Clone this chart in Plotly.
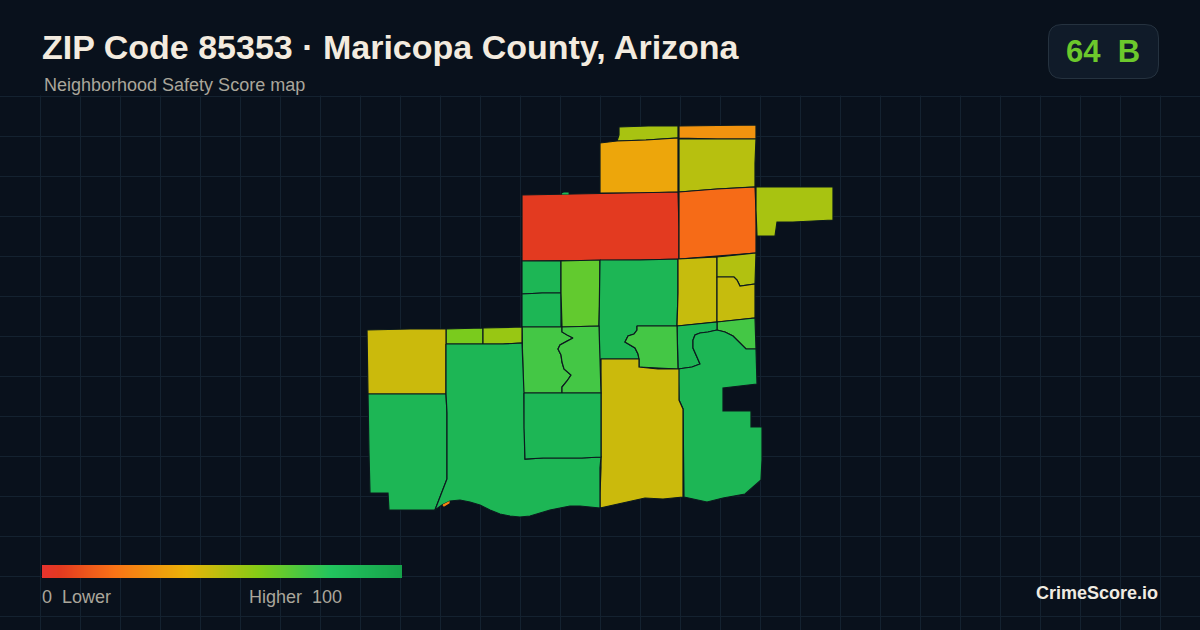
import numpy as np
import plotly.graph_objects as go
from plotly.colors import sample_colorscale

# ---------- text ----------
title_text = "ZIP Code 85353 · Maricopa County, Arizona"
subtitle_text = "Neighborhood Safety Score map"
badge_text = "64\u00a0\u00a0B"
legend_low = "0\u00a0\u00a0Lower"
legend_high = "Higher\u00a0\u00a0100"
brand_text = "CrimeScore.io"

# ---------- colour scale of the score ----------
score_stops = [0.0, 0.05, 0.2, 0.4, 0.6, 0.8, 1.0]
score_colors = ["#e6332e", "#e33a20", "#f97316", "#eab308", "#84cc16", "#22c55e", "#16a34a"]
legend_scores = list(range(0, 101, 2))

# ---------- tract scores ----------
tract_scores = {
    "a": 53, "b": 30, "c": 36, "d": 50, "e": 5, "f": 18, "g": 53,
    "h": 89, "i": 89, "j": 67, "k": 89, "l": 47, "m": 51, "n": 47,
    "o": 73, "p": 89, "q": 89, "r": 73, "s": 46, "t": 73, "u": 73,
    "v": 62, "w": 56, "x": 46, "y": 89, "z": 89, "aa": 89,
    "sliver_n": 89, "sliver_s": 25,
}

# ---------- tract outlines ----------
curve_tu = [(562,332),(567,335),(573,338),(567,341),(560,345),(558,349),(561,355),(562,362),(564,369),(571,375),(567,381),(562,387)]
curve_kr = [(637,330),(634,334),(628,336),(625,342),(630,345),(635,348),(638,354),(639,359)]
curve_mn = [(734,277),(737,280),(740,286)]
curve_pq = [(708,332),(700,333),(695,335),(693,340),(693,348),(697,357),(700,364),(692,367)]
curve_oq = [(725,332),(733,336),(740,343),(746,349)]
shore_west = [(590,507),(580,506),(570,506),(560,508),(550,510),(540,513),(530,516),(520,517),(510,516),(500,514),(490,510),(480,505),(470,502),(460,500),(450,501),(442,505)]

tract_a = [(619,127),(648,126),(678,126),(678,138),(646,140),(617,141),(619,135)]
tract_b = [(679,126),(737,125),(756,125),(756,139),(717,139),(679,138)]
tract_c = [(600,143),(617,141),(646,140),(678,138),(678,192),(640,193),(600,193)]
tract_d = [(679,139),(717,139),(756,139),(755,163),(755,187),(717,189),(679,192)]
tract_e = [(522,195),(580,194),(640,193),(678,192),(679,227),(679,259),(640,260),(560,261),(522,261)]
tract_f = [(679,192),(717,189),(755,187),(756,210),(756,253),(717,256),(679,259)]
tract_g = [(756,187),(833,187),(833,220),(793,222),(777,222),(775,236),(757,236),(756,210)]
tract_h = [(522,261),(561,261),(561,293),(542,293),(522,294)]
tract_i = [(522,294),(542,293),(561,293),(561,327),(522,327)]
tract_j = [(561,261),(600,260),(600,293),(599,326),(562,327),(561,293)]
tract_k = [(600,260),(640,260),(678,259),(678,293),(677,326),(637,326)] + curve_kr + [(599,359),(599,326)]
tract_l = [(678,259),(717,257),(717,277),(717,322),(677,326),(678,293)]
tract_m = [(717,257),(756,253),(755,284)] + curve_mn[::-1] + [(717,277)]
tract_n = [(717,277)] + curve_mn + [(755,284),(755,318),(717,322)]
tract_o = [(717,322),(755,318),(756,349)] + curve_oq[::-1] + [(717,330)]
tract_p = [(677,326),(717,322),(717,330)] + curve_pq + [(678,369)]
tract_q = [(678,369)] + curve_pq[::-1] + [(717,330)] + curve_oq + [(756,349),(757,384),(723,388),(723,411),(751,411),(751,427),(762,427),(762,460),(761,480),(745,494),(723,498),(707,502),(684,497),(683,409),(679,400)]
tract_r = [(637,326),(677,326),(678,369),(658,368),(639,367)] + curve_kr[::-1]
tract_s = [(601,359),(639,359),(639,367),(658,369),(679,369),(679,400),(683,409),(683,497),(663,499),(645,498),(600,508),(600,493),(601,468),(601,377)]
tract_t = [(522,327),(562,327)] + curve_tu + [(562,393),(523,393),(523,377)]
tract_u = [(562,327),(599,326),(600,359),(601,393),(562,393)] + curve_tu[::-1]
tract_v = [(446,329),(483,328),(483,344),(446,344)]
tract_w = [(483,328),(522,327),(522,343),(503,344),(483,344)]
tract_x = [(367,330),(410,329),(446,329),(446,394),(368,394),(367,353)]
tract_y = [(368,394),(446,394),(447,413),(447,479),(435,510),(389,510),(388,493),(370,493),(369,453)]
tract_z = [(446,344),(483,344),(503,344),(522,343),(523,377),(524,393),(525,459),(543,458),(582,458),(601,457),(600,468),(600,508)] + shore_west + [(435,510),(447,479),(447,413),(446,394)]
tract_aa = [(524,393),(601,393),(601,457),(582,458),(543,458),(525,459),(524,428)]
tract_sliver_n = [(562,194),(564,193),(568,193),(568,194)]
tract_sliver_s = [(443,505),(449,502),(449,503),(444,506)]

tracts = {
    "a": tract_a, "b": tract_b, "c": tract_c, "d": tract_d, "e": tract_e, "f": tract_f,
    "g": tract_g, "h": tract_h, "i": tract_i, "j": tract_j, "k": tract_k, "l": tract_l,
    "m": tract_m, "n": tract_n, "o": tract_o, "p": tract_p, "q": tract_q, "r": tract_r,
    "s": tract_s, "t": tract_t, "u": tract_u, "v": tract_v, "w": tract_w, "x": tract_x,
    "y": tract_y, "z": tract_z, "aa": tract_aa,
    "sliver_n": tract_sliver_n, "sliver_s": tract_sliver_s,
}

BG = "#09111c"
GRID = "#142230"
OUTLINE = "#0c1a1f"
colorscale = [[s, c] for s, c in zip(score_stops, score_colors)]

fig = go.Figure()

for name, pts in tracts.items():
    xs = [p[0] for p in pts] + [pts[0][0]]
    ys = [p[1] for p in pts] + [pts[0][1]]
    color = sample_colorscale(colorscale, tract_scores[name] / 100)[0]
    is_sliver = name.startswith("sliver")
    fig.add_trace(go.Scatter(
        x=xs, y=ys, mode="lines", fill="toself", fillcolor=color,
        line=dict(color=color if is_sliver else OUTLINE, width=1.2),
        name=name, showlegend=False, hoverinfo="skip",
    ))

fig.add_trace(go.Heatmap(
    x=legend_scores, y=[0, 1], z=[legend_scores, legend_scores],
    zmin=0, zmax=100, colorscale=colorscale, showscale=False, zsmooth="best",
    xaxis="x2", yaxis="y2", hoverinfo="skip",
))

shapes = [
    dict(type="rect", layer="between", xref="x", yref="y", x0=0, x1=1200, y0=0, y1=95.5,
         fillcolor=BG, line=dict(width=0)),
    dict(type="path", layer="between", xref="x", yref="y",
         path="M1062,24.5 L1145,24.5 Q1158.5,24.5 1158.5,38 L1158.5,65 Q1158.5,78.5 1145,78.5 "
              "L1062,78.5 Q1048.5,78.5 1048.5,65 L1048.5,38 Q1048.5,24.5 1062,24.5 Z",
         fillcolor="#101b29", line=dict(color="#25323f", width=1)),
]

def label(x, y, text, size, color, bold=False, anchor="left"):
    return dict(x=x, y=y, xref="x", yref="y", text=f"<b>{text}</b>" if bold else text,
                showarrow=False, xanchor=anchor, yanchor="middle",
                font=dict(family="Liberation Sans", size=size, color=color))

annotations = [
    label(40, 47, title_text, 34, "#f3ebdf", bold=True),
    label(42, 85, subtitle_text, 18, "#aaa69b"),
    label(1103, 51, badge_text, 31, "#6cc82c", bold=True, anchor="center"),
    label(40, 597, legend_low, 18, "#aaa69b"),
    label(247, 597, legend_high, 18, "#aaa69b"),
    label(1160, 593, brand_text, 18, "#f0ebe2", bold=True, anchor="right"),
]

fig.update_layout(
    width=1200, height=630, margin=dict(l=0, r=0, t=0, b=0),
    paper_bgcolor=BG, plot_bgcolor=BG, showlegend=False,
    shapes=shapes, annotations=annotations,
    xaxis=dict(range=[0, 1200], domain=[0, 1], tick0=0, dtick=40, showgrid=True,
               gridcolor=GRID, gridwidth=1, zeroline=False, showticklabels=False, ticks="",
               showline=False, fixedrange=True),
    yaxis=dict(range=[630, 0], domain=[0, 1], tick0=16, dtick=40, showgrid=True,
               gridcolor=GRID, gridwidth=1, zeroline=False, showticklabels=False, ticks="",
               showline=False, fixedrange=True),
    xaxis2=dict(range=[0, 100], domain=[42 / 1200, 402 / 1200], anchor="y2", visible=False,
                fixedrange=True),
    yaxis2=dict(range=[0, 1], domain=[1 - 578 / 630, 1 - 565 / 630], anchor="x2", visible=False,
                fixedrange=True),
)

fig.write_html("out.html", config=dict(displayModeBar=False),
               post_script="document.body.style.margin='0';document.body.style.background='%s';" % BG)
